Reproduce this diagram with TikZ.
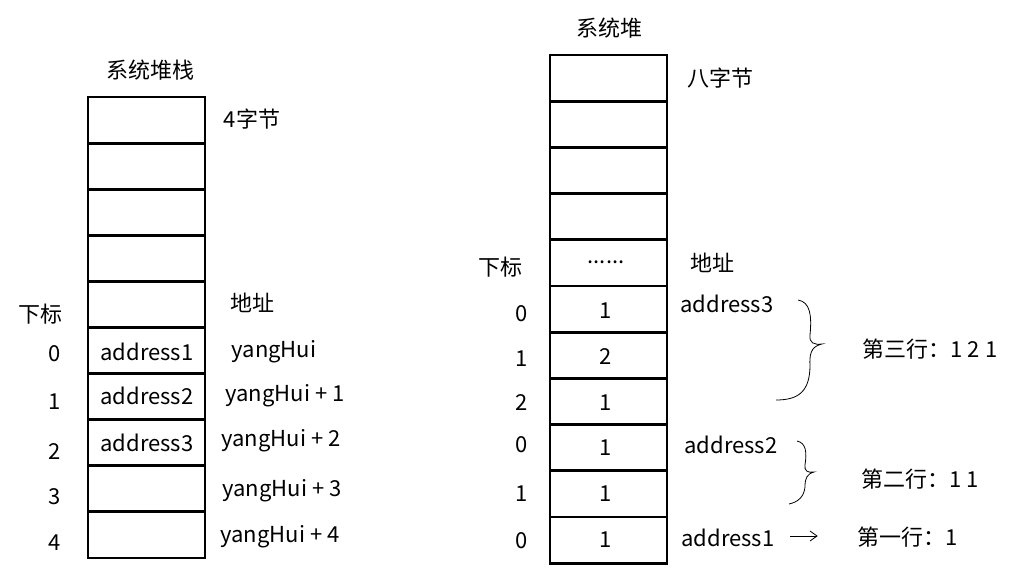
\documentclass[tikz,border=0pt]{standalone}
\usepackage{fontspec}
\setmainfont{Noto Sans CJK SC}
\begin{document}
\begin{tikzpicture}[x=0.75pt,y=-0.75pt,
  cell/.style={draw,line width=2.2pt},
  lbl/.style={font=\fontsize{16.5}{18}\selectfont,inner sep=0pt},
  brc/.style={line width=0.6pt}]
\useasboundingbox (0,0) rectangle (1021,588);
% left stack
\foreach \i in {0,...,9}{
  \draw[cell] (88,{97+46.1*\i}) rectangle (205,{97+46.1*(\i+1)});}
\node[lbl] (t1) at (150,70) {系统堆栈};
\node[lbl] at (252,119) {4字节};
\node[lbl] at (252,303) {地址};
\node[lbl] at (40,314) {下标};
\foreach \y/\n in {354/0,402/1,452/2,497/3,543/4}{\node[lbl] at (55,\y) {\n};}
\node[lbl] at (147,352) {address1};
\node[lbl] at (147,396) {address2};
\node[lbl] at (147,443) {address3};
\node[lbl] at (274,352) {yangHui};
\node[lbl] at (285,396) {yangHui + 1};
\node[lbl] at (281,441) {yangHui + 2};
\node[lbl] at (282,491) {yangHui + 3};
\node[lbl] at (280,537) {yangHui + 4};
% right heap
\foreach \i in {0,...,10}{
  \draw[cell] (550,{55+46.2*\i}) rectangle (667,{55+46.2*(\i+1)});}
\node[lbl] at (609,28) {系统堆};
\node[lbl] at (720,78) {八字节};
\node[lbl] at (606,262) {......};
\node[lbl] at (712,263) {地址};
\node[lbl] at (500,267) {下标};
\foreach \y/\n in {311/1,357/2,403/1,448/1,494/1,540/1}{\node[lbl] at (606,\y) {\n};}
\foreach \y/\n in {314/0,359/1,403/2,445/0,494/1,541/0}{\node[lbl] at (522,\y) {\n};}
\node[lbl] at (727,304) {address3};
\node[lbl] at (731,445) {address2};
\node[lbl] (a1) at (728,538) {address1};
\node[lbl] (r3) at (930,349) {第三行：1 2 1};
\node[lbl] (r2) at (920,479) {第二行：1 1};
\node[lbl] (r1) at (908,537) {第一行：1};
\coordinate (e1) at (817,536);
\draw[brc] (790,536) -- (e1);
\draw[brc] (810,531) -- (e1) -- (810,541);
\draw[brc] (798,300) .. controls (810,302) and (812,315) .. (810,335)
  .. controls (809,343) and (814,345) .. (822,344)
  .. controls (814,346) and (809,350) .. (810,365)
  .. controls (810,392) and (798,400) .. (776,400);
\draw[brc] (797,441) .. controls (806,443) and (807,452) .. (805,465)
  .. controls (804,471) and (808,473) .. (814,472)
  .. controls (807,474) and (805,478) .. (805,487)
  .. controls (804,497) and (798,502) .. (789,504);
\end{tikzpicture}
\end{document}
